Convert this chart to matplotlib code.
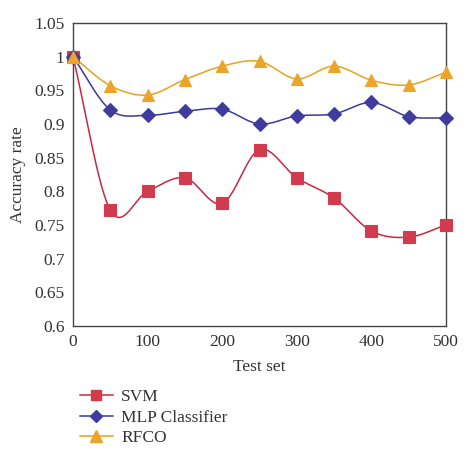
import numpy as np
import matplotlib
matplotlib.use("Agg")
import matplotlib.pyplot as plt

plt.rcParams['font.family'] = ['Liberation Serif', 'DejaVu Serif']

# Data
test_set = [0, 50, 100, 150, 200, 250, 300, 350, 400, 450, 500]
svm = [1.0, 0.772, 0.800, 0.820, 0.782, 0.862, 0.820, 0.790, 0.741, 0.732, 0.750]
mlp = [1.0, 0.921, 0.913, 0.919, 0.922, 0.900, 0.912, 0.915, 0.932, 0.911, 0.909]
rfco = [1.0, 0.957, 0.943, 0.966, 0.986, 0.993, 0.967, 0.986, 0.965, 0.958, 0.977]


def smooth(x, y, n=30):
    # Catmull-Rom curve through the points (like Excel's smoothed line)
    x = np.asarray(x, float)
    y = np.asarray(y, float)
    px = np.concatenate([[2 * x[0] - x[1]], x, [2 * x[-1] - x[-2]]])
    py = np.concatenate([[2 * y[0] - y[1]], y, [2 * y[-1] - y[-2]]])
    xs, ys = [], []
    t = np.linspace(0, 1, n)
    for i in range(1, len(px) - 2):
        for p, out in ((px, xs), (py, ys)):
            p0, p1, p2, p3 = p[i - 1], p[i], p[i + 1], p[i + 2]
            out.extend(0.5 * (2 * p1 + (-p0 + p2) * t
                              + (2 * p0 - 5 * p1 + 4 * p2 - p3) * t ** 2
                              + (-p0 + 3 * p1 - 3 * p2 + p3) * t ** 3))
    return xs, ys


fig = plt.figure(figsize=(4.74, 4.61), dpi=100)
ax = fig.add_axes([0.154, 0.293, 0.787, 0.657])

series = [
    ("SVM", svm, "#c9283f", "s", "#d23a4e", 8),
    ("MLP Classifier", mlp, "#3b3a96", "D", "#3f3c9e", 7),
    ("RFCO", rfco, "#e8a21c", "^", "#eaa52a", 9),
]
handles = []
for name, vals, col, mk, mfc, ms in series:
    sx, sy = smooth(test_set, vals)
    ax.plot(sx, sy, color=col, lw=1.1, zorder=2)
    ax.plot(test_set, vals, ls="none", marker=mk, ms=ms, mfc=mfc,
            mec=mfc, mew=0.8, zorder=3, clip_on=False)
    h, = ax.plot([], [], color=col, lw=1.1, marker=mk, ms=ms - 1, mfc=mfc,
                 mec=mfc, label=name)
    handles.append(h)

ax.set_xlim(0, 500)
ax.set_ylim(0.6, 1.05)
ax.set_xticks([0, 100, 200, 300, 400, 500])
ax.set_yticks([0.6, 0.65, 0.7, 0.75, 0.8, 0.85, 0.9, 0.95, 1.0, 1.05])
ax.set_yticklabels(["0.6", "0.65", "0.7", "0.75", "0.8", "0.85", "0.9",
                    "0.95", "1", "1.05"])
ax.tick_params(direction="in", length=0, labelsize=12.5, colors="#333333",
               pad=6)
for s in ax.spines.values():
    s.set_color("#444444")
    s.set_linewidth(1.0)
ax.set_xlabel("Test set", fontsize=12.5, color="#333333", labelpad=6)
ax.set_ylabel("Accuracy rate", fontsize=12.5, color="#333333", labelpad=6)

fig.legend(handles=handles, loc="upper left",
           bbox_to_anchor=(0.135, 0.19), frameon=False, fontsize=12.5,
           handlelength=1.9, handletextpad=0.5, labelspacing=0.25,
           labelcolor="#333333")

fig.savefig("out.png", dpi=100)
